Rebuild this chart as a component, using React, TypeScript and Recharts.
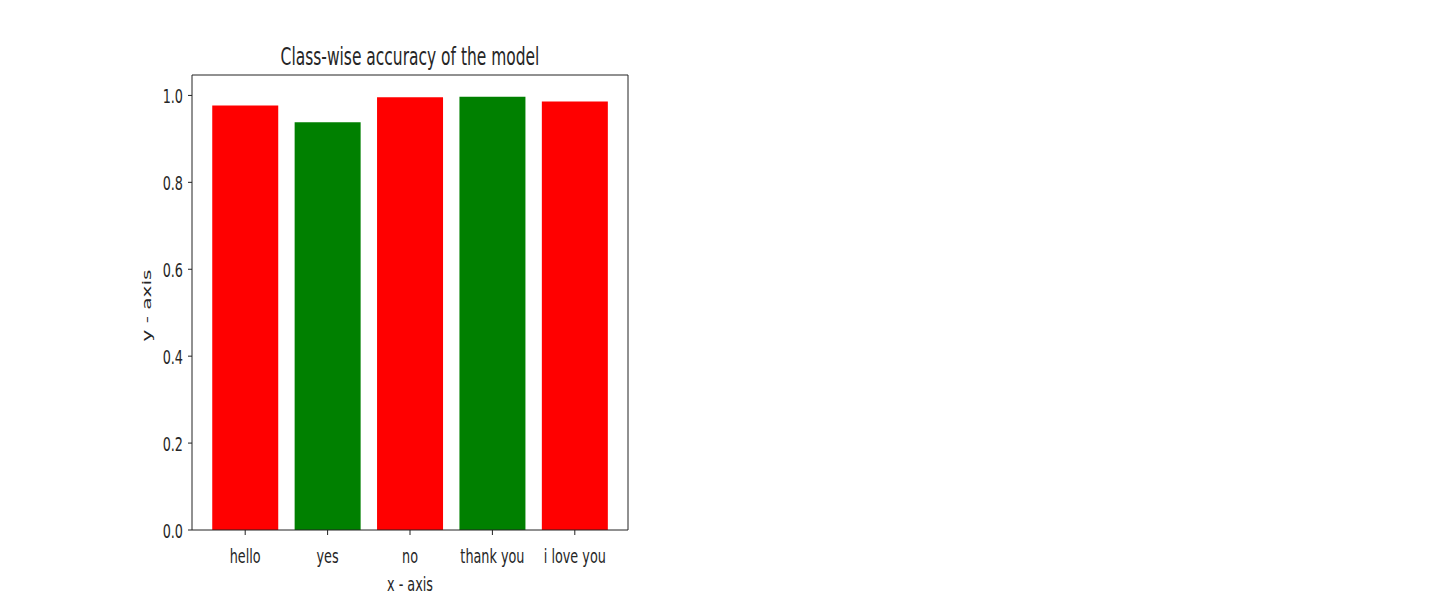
import React from 'react';
import { BarChart, Bar, XAxis, YAxis, Cell, Label } from 'recharts';

const categories = ['hello', 'yes', 'no', 'thank you', 'i love you'];
const accuracy = [0.977, 0.938, 0.996, 0.997, 0.986];
const barColors = ['#ff0000', '#008000', '#ff0000', '#008000', '#ff0000'];
const yTicks = [0, 0.2, 0.4, 0.6, 0.8, 1.0];

const data = categories.map((c, i) => ({ name: c, value: accuracy[i] }));

const FONT = 'DejaVu Sans';
const SX = 0.64;
const TXT = '#262626';

const XTick = (props: any) => {
  const { x, y, payload } = props;
  return (
    <g transform={`translate(${x},${y})`}>
      <text transform={`scale(${SX},1)`} textAnchor="middle" dy={18} fontSize={20} fill={TXT} fontFamily={FONT}>
        {payload.value}
      </text>
    </g>
  );
};

const YTick = (props: any) => {
  const { x, y, payload } = props;
  return (
    <g transform={`translate(${x},${y})`}>
      <text transform={`scale(${SX},1)`} textAnchor="end" dy={8} fontSize={20} fill={TXT} fontFamily={FONT}>
        {Number(payload.value).toFixed(1)}
      </text>
    </g>
  );
};

const TitleLabel = (p: any) => {
  const vb = p.viewBox;
  return (
    <text transform={`translate(${vb.x + vb.width / 2},${vb.y - 9}) scale(0.645,1)`} textAnchor="middle" fontSize={24} fill={TXT} fontFamily={FONT}>
      Class-wise accuracy of the model
    </text>
  );
};

const XLabel = (p: any) => {
  const vb = p.viewBox;
  return (
    <text transform={`translate(${vb.x + vb.width / 2},${vb.y + 61}) scale(${SX},1)`} textAnchor="middle" fontSize={20} fill={TXT} fontFamily={FONT}>
      x - axis
    </text>
  );
};

const YLabel = (p: any) => {
  const vb = p.viewBox;
  return (
    <text transform={`translate(${vb.x - 40},${vb.y + vb.height / 2 + 3}) rotate(-90) scale(1,${SX})`} textAnchor="middle" fontSize={20} fill={TXT} fontFamily={FONT}>
      y - axis
    </text>
  );
};

export default function App() {
  return (
    <div style={{ position: 'absolute', left: 0, top: 0, background: '#fff' }}>
      <BarChart
        width={1433}
        height={607}
        data={data}
        margin={{ top: 74, left: 191, right: 804, bottom: 76 }}
        barCategoryGap="10%"
      >
        <XAxis
          dataKey="name"
          height={1}
          padding={{ left: 12, right: 12 }}
          tickSize={5}
          tickMargin={10}
          axisLine={{ stroke: '#222' }}
          tickLine={{ stroke: '#222' }}
          tick={<XTick />}
          interval={0}
        >
          <Label content={XLabel} />
        </XAxis>
        <XAxis
          xAxisId="top"
          dataKey="name"
          orientation="top"
          height={1}
          tick={false}
          tickLine={false}
          axisLine={{ stroke: '#222' }}
        >
          <Label content={TitleLabel} />
        </XAxis>
        <YAxis
          width={1}
          domain={[0, 1.047]}
          ticks={yTicks}
          tickSize={4}
          tickMargin={5}
          axisLine={{ stroke: '#222' }}
          tickLine={{ stroke: '#222' }}
          tick={<YTick />}
          allowDataOverflow
        >
          <Label content={YLabel} />
        </YAxis>
        <YAxis
          yAxisId="right"
          orientation="right"
          width={1}
          tick={false}
          tickLine={false}
          axisLine={{ stroke: '#222' }}
        />
        <Bar dataKey="value" isAnimationActive={false}>
          {data.map((d, i) => (
            <Cell key={d.name} fill={barColors[i]} />
          ))}
        </Bar>
      </BarChart>
    </div>
  );
}
